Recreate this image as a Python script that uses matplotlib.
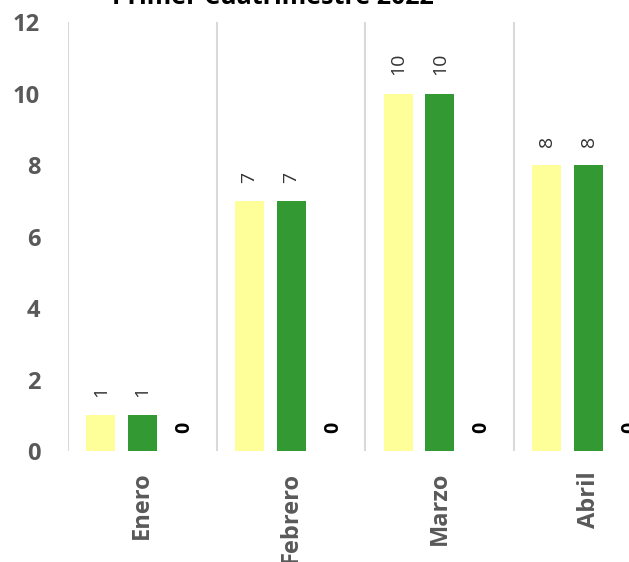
import matplotlib

matplotlib.use("Agg")
import matplotlib.pyplot as plt
import numpy as np

# datos
meses = ["Enero", "Febrero", "Marzo", "Abril"]
serie_a = [1, 7, 10, 8]   # amarillo
serie_b = [1, 7, 10, 8]   # verde
serie_c = [0, 0, 0, 0]    # tercera serie (sin altura)
y_ticks = [0, 2, 4, 6, 8, 10, 12]

COL_A = "#FFFF99"
COL_B = "#339933"
COL_C = "#7F7F7F"
GRIS_TXT = "#595959"

plt.rcParams["font.family"] = ["Open Sans", "DejaVu Sans"]

fig = plt.figure(figsize=(6.29, 5.62), dpi=100)
# el área del gráfico se sale un poco por la derecha (imagen recortada)
ax = fig.add_axes([0.1081, 0.1975, 0.9459, 0.7633])

x = np.arange(len(meses))
off = 0.28
w = 0.195

bars_a = ax.bar(x - off, serie_a, w, color=COL_A, zorder=2)
bars_b = ax.bar(x, serie_b, w, color=COL_B, zorder=2)
bars_c = ax.bar(x + off, serie_c, w, color=COL_C, zorder=2)


def _etiquetas(bars, vals, **kw):
    for b, v in zip(bars, vals):
        ax.annotate(str(v), (b.get_x() + b.get_width() / 2, b.get_height()),
                    xytext=(0, 13), textcoords="offset points",
                    ha="center", va="bottom", rotation=90, **kw)


_etiquetas(bars_a, serie_a, fontsize=14, color="#333333")
_etiquetas(bars_b, serie_b, fontsize=14, color="#333333")
_etiquetas(bars_c, serie_c, fontsize=14, color="black", fontweight="bold")

# separadores entre categorías
ax.vlines(np.arange(-0.5, len(meses), 1.0), 0, 12, color="#D9D9D9", lw=1.5, zorder=1)

ax.set_xlim(-0.5, len(meses) - 0.5)
ax.set_ylim(0, 12)
ax.set_yticks(y_ticks)
ax.set_xticks(x)
ax.set_xticklabels(meses, rotation=90)

for s in ax.spines.values():
    s.set_visible(False)
ax.tick_params(axis="both", length=0, colors=GRIS_TXT, labelsize=17)
ax.tick_params(axis="x", pad=15)
ax.tick_params(axis="y", pad=20)
for lbl in ax.get_yticklabels() + ax.get_xticklabels():
    lbl.set_fontweight("bold")

fig.text(273 / 629, 1 - 4 / 562, "Primer Cuatrimestre 2022", ha="center",
         va="baseline", fontsize=18, fontweight="bold", color="black")

fig.savefig("out.png", dpi=100)
